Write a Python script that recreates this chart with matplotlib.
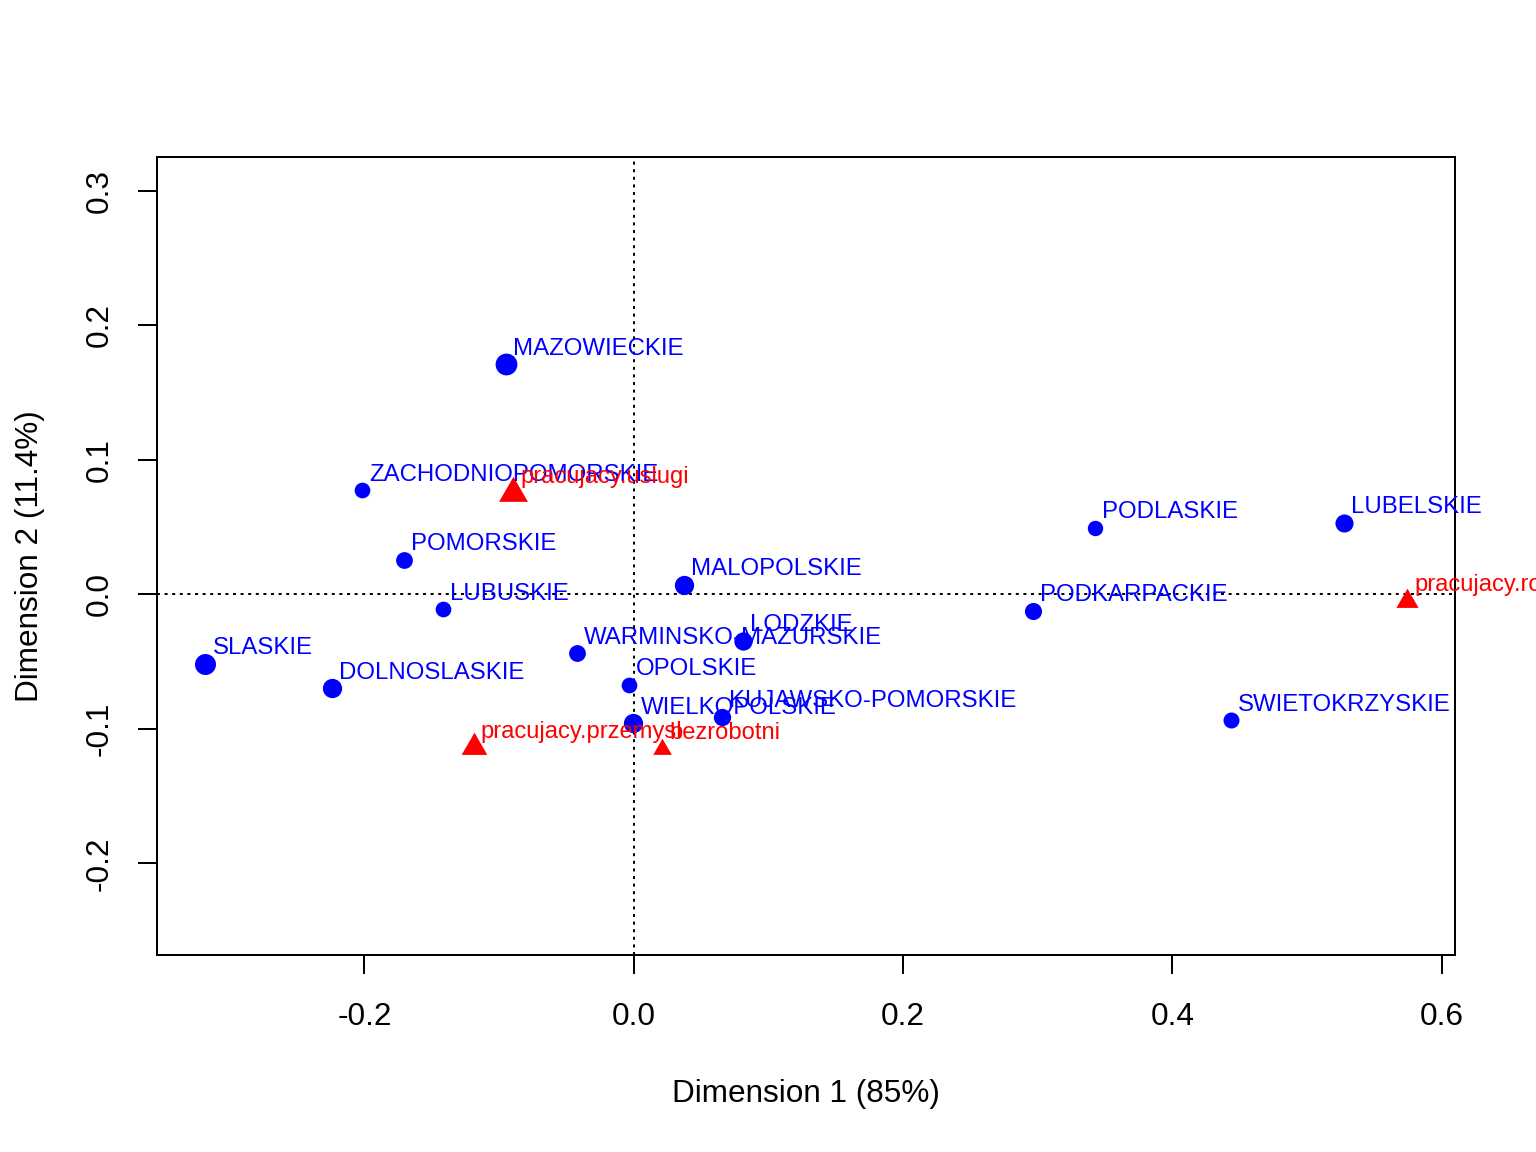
import matplotlib
matplotlib.use("Agg")
import matplotlib.pyplot as plt
import numpy as np

plt.rcParams['font.family'] = ['Liberation Sans', 'DejaVu Sans']

# Row points (regions)
rows = ["MAZOWIECKIE", "ZACHODNIOPOMORSKIE", "POMORSKIE", "LUBUSKIE", "MALOPOLSKIE",
        "SLASKIE", "DOLNOSLASKIE", "WARMINSKO-MAZURSKIE", "OPOLSKIE", "WIELKOPOLSKIE",
        "LODZKIE", "KUJAWSKO-POMORSKIE", "PODKARPACKIE", "PODLASKIE", "LUBELSKIE",
        "SWIETOKRZYSKIE"]
row_dim1 = [-0.0947, -0.2019, -0.1703, -0.1416, 0.0372,
            -0.3181, -0.2240, -0.0421, -0.0036, -0.0002,
            0.0811, 0.0655, 0.2963, 0.3427, 0.5274,
            0.4438]
row_dim2 = [0.1710, 0.0775, 0.0255, -0.0112, 0.0069,
            -0.0518, -0.0699, -0.0439, -0.0674, -0.0959,
            -0.0347, -0.0910, -0.0124, 0.0493, 0.0532,
            -0.0935]
# symbol size (mass): diameter in pixels
row_size_px = [21.8, 15.7, 16.8, 15.7, 19.3,
               21.0, 19.3, 16.8, 15.7, 19.3,
               18.3, 17.3, 17.1, 15.4, 18.1,
               16.0]

# Column points (categories)
cols = ["pracujacy.uslugi", "pracujacy.przemysl", "bezrobotni", "pracujacy.rolnictwo"]
col_dim1 = [-0.0894, -0.1188, 0.0213, 0.5746]
col_dim2 = [0.0755, -0.1138, -0.1148, -0.0048]
col_size_px = [28.9, 25.7, 18.6, 22.2]  # triangle width in pixels

xlabel = "Dimension 1 (85%)"
ylabel = "Dimension 2 (11.4%)"
xticks = [-0.2, 0.0, 0.2, 0.4, 0.6]
yticks = [-0.2, -0.1, 0.0, 0.1, 0.2, 0.3]

DPI = 100
def pt(px):
    return px * 72.0 / DPI

fig = plt.figure(figsize=(15.36, 11.52), dpi=DPI)
ax = fig.add_axes([157/1536, 1 - 955/1152, (1455.4 - 157)/1536, (955 - 157)/1152])

ax.set_xlim(-0.3541, 0.6103)
ax.set_ylim(-0.2682, 0.3251)

lw = pt(2)
ax.axhline(0, color='black', lw=lw, linestyle=(0, (1.5, 2.3)), zorder=1)
ax.axvline(0, color='black', lw=lw, linestyle=(0, (1.5, 2.3)), zorder=1)

# equilateral triangle centred on its centroid (like R pch 17)
h = np.sqrt(3)
tri = [(-1, -h/3), (1, -h/3), (0, 2*h/3), (-1, -h/3)]
tri_scale = 2 / (2 * (2*h/3))  # width relative to markersize

for x, y, s in zip(row_dim1, row_dim2, row_size_px):
    ax.plot(x, y, 'o', color='#0000FF', markersize=pt(s), markeredgewidth=0, zorder=3)
for x, y, lab in zip(row_dim1, row_dim2, rows):
    ax.annotate(lab, (x, y), xytext=(pt(7), pt(9.5)), textcoords='offset points',
                ha='left', va='baseline', color='#0000FF', fontsize=pt(24), zorder=4,
                annotation_clip=False)

for x, y, s in zip(col_dim1, col_dim2, col_size_px):
    ax.plot(x, y, marker=tri, linestyle='none', color='#FF0000',
            markersize=pt(s) / tri_scale, markeredgewidth=0, zorder=3)
for x, y, lab in zip(col_dim1, col_dim2, cols):
    ax.annotate(lab, (x, y), xytext=(pt(7), pt(9.5)), textcoords='offset points',
                ha='left', va='baseline', color='#FF0000', fontsize=pt(23.7), zorder=4,
                annotation_clip=False)

for sp in ax.spines.values():
    sp.set_linewidth(lw)
ax.set_xticks(xticks)
ax.set_xticklabels(["-0.2", "0.0", "0.2", "0.4", "0.6"])
ax.set_yticks(yticks)
ax.set_yticklabels(["-0.2", "-0.1", "0.0", "0.1", "0.2", "0.3"], rotation=90, va='center')
ax.tick_params(axis='both', direction='out', length=pt(19), width=lw,
               labelsize=pt(31.5), pad=pt(28))
ax.tick_params(axis='y', pad=pt(23))
ax.set_xlabel(xlabel, fontsize=pt(31.5), labelpad=pt(47))
ax.set_ylabel(ylabel, fontsize=pt(31.5), labelpad=pt(40))

fig.savefig("out.png", dpi=DPI)
